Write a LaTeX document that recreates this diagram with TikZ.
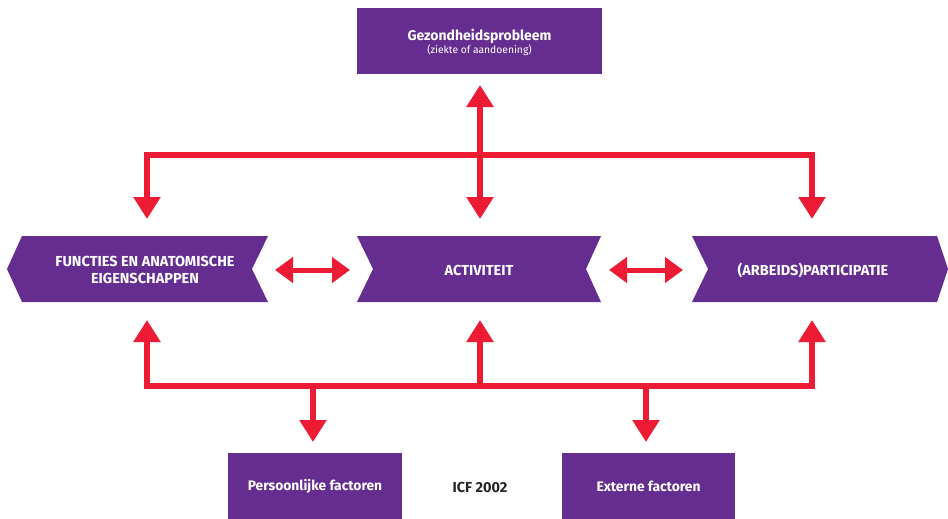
\documentclass[tikz,border=0pt]{standalone}
\usepackage{fontspec}
\setmainfont{Fira Sans}
\usetikzlibrary{arrows.meta}
\definecolor{icfpurple}{RGB}{102,45,145}
\definecolor{icfred}{RGB}{237,28,52}
\begin{document}
\begin{tikzpicture}[x=1pt,y=-1pt,
  box/.style={fill=icfpurple,draw=none,text=white,align=center,inner sep=0pt},
  lbl/.style={text=white,align=center,font=\fontsize{14.5}{17}\selectfont\bfseries},
  bigarr/.style={draw=icfred,line width=6pt,miter limit=10,line join=miter,
     {Triangle[length=22pt,width=26pt]}-{Triangle[length=22pt,width=26pt]}},
  onearr/.style={draw=icfred,line width=6pt,-{Triangle[length=22pt,width=26pt]}},
  smallarr/.style={draw=icfred,line width=5pt,
     {Triangle[length=18pt,width=25pt]}-{Triangle[length=18pt,width=25pt]}}]
\useasboundingbox (0,0) rectangle (948,519);
% top box
\node[box,minimum width=245pt,minimum height=66pt] (gp) at (479.5,41) {};
\node[text=white,font=\fontsize{14}{16}\selectfont\bfseries] (gpt) at (479.5,36) {Gezondheidsprobleem};
\node[text=white,font=\fontsize{10.3}{12}\selectfont] (gps) at (479.5,50.5) {(ziekte of aandoening)};
% chevrons
\fill[icfpurple] (22,236) -- (268,236) -- (252,269) -- (268,302) -- (22,302) -- (7,269) -- cycle;
\fill[icfpurple] (357,236) -- (601,236) -- (586,269) -- (601,302) -- (357,302) -- (373,269) -- cycle;
\fill[icfpurple] (692,236) -- (937,236) -- (948,269) -- (937,302) -- (692,302) -- (708,269) -- cycle;
\node[lbl] (fun) at (145,270) {FUNCTIES EN ANATOMISCHE\\EIGENSCHAPPEN};
\node[lbl] (act) at (479,270) {ACTIVITEIT};
\node[lbl] (par) at (813,270) {(ARBEIDS)PARTICIPATIE};
% bottom boxes
\node[box,minimum width=174pt,minimum height=66pt,font=\fontsize{13.8}{16}\selectfont\bfseries] (pf) at (315,486) {Persoonlijke factoren};
\node[box,minimum width=173pt,minimum height=66pt,font=\fontsize{13.8}{16}\selectfont\bfseries] (ef) at (648.5,486) {Externe factoren};
\node[font=\fontsize{14.5}{16}\selectfont\bfseries,text=black!85] (icf) at (480,487) {ICF 2002};
% connector coordinates
\coordinate (gpTip) at (480,85);
\coordinate (actTop) at (480,219);
\coordinate (topMid) at (480,155);
\coordinate (funTop) at (147,219);
\coordinate (parTop) at (812,219);
\coordinate (funBot) at (147,320);
\coordinate (actBot) at (480,320);
\coordinate (parBot) at (812,320);
\coordinate (botMid) at (480,386);
\coordinate (pfJ) at (313,386);
\coordinate (pfTop) at (313,442);
\coordinate (efJ) at (646,386);
\coordinate (efTop) at (646,442);
\coordinate (fa1) at (275,270);
\coordinate (fa2) at (350,270);
\coordinate (ap1) at (609,270);
\coordinate (ap2) at (683,270);
% connectors
\draw[bigarr] (gpTip) -- (actTop);
\draw[bigarr] (funTop) |- (topMid) -| (parTop);
\draw[bigarr] (funBot) |- (botMid) -| (parBot);
\draw[onearr] (botMid) -- (actBot);
\draw[onearr] (pfJ) -- (pfTop);
\draw[onearr] (efJ) -- (efTop);
\draw[smallarr] (fa1) -- (fa2);
\draw[smallarr] (ap1) -- (ap2);
\end{tikzpicture}
\end{document}
